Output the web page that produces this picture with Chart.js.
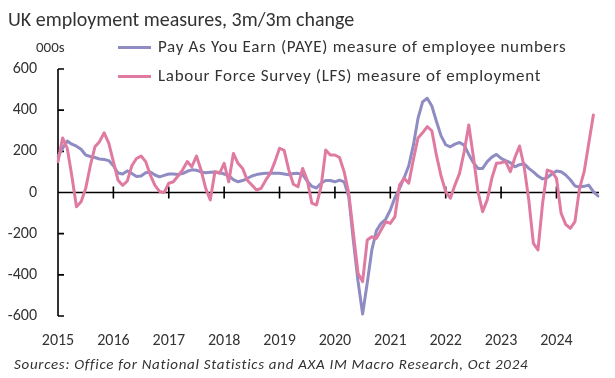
<!DOCTYPE html>
<html><head><meta charset="utf-8">
<script src="https://cdn.jsdelivr.net/npm/chart.js@4.4.1/dist/chart.umd.min.js"></script>
<style>
html,body{margin:0;padding:0;background:#fff;}
#wrap{position:relative;width:615px;height:378px;overflow:hidden;font-family:Carlito,Lato,sans-serif;color:#333;}
canvas{position:absolute;left:0;top:0;}
.t{position:absolute;white-space:nowrap;line-height:1;}
.lg{font-size:17px;letter-spacing:0.7px;}
.sw{position:absolute;width:33px;height:3px;}
</style></head><body>
<div id="wrap">
<canvas id="c" width="615" height="378"></canvas>
<div class="t" style="left:8px;top:9px;font-size:20px;">UK employment measures, 3m/3m change</div>
<div class="t" style="left:36px;top:40px;font-size:15px;">000s</div>
<div class="sw" style="left:118px;top:46px;background:#8e8cc2;"></div>
<div class="t lg" style="left:158px;top:38px;">Pay As You Earn (PAYE) measure of employee numbers</div>
<div class="sw" style="left:118px;top:75px;background:#e07aa1;"></div>
<div class="t lg" style="left:158px;top:67px;">Labour Force Survey (LFS) measure of employment</div>
<div class="t" style="left:14px;top:357px;font-size:15px;font-style:italic;letter-spacing:0.7px;">Sources: Office for National Statistics and AXA IM Macro Research, Oct 2024</div>
</div>
<script>
const startYear = 2015;
const yearLabels = ['2015','2016','2017','2018','2019','2020','2021','2022','2023','2024'];
const yTicks = [-600,-400,-200,0,200,400,600];
// PAYE, 3m/3m change, 000s, monthly from Jan 2015
const payeValues = [
 175,215,250,235,225,210,182,175,170,163,160,155,
 130,95,90,105,92,78,80,96,100,85,76,83,
 90,90,88,92,103,110,108,100,96,98,100,97,
 90,82,62,52,58,68,80,87,91,93,93,93,
 93,90,86,92,93,88,55,30,22,45,58,58,
 52,60,52,-20,-235,-430,-590,-440,-279,-185,-150,-130,
 -85,-25,20,72,130,230,360,440,458,420,345,275,
 232,222,235,243,230,185,145,117,117,150,172,185,
 166,155,145,125,135,140,117,100,80,66,72,90,
 104,101,85,62,32,27,30,36,4,-17
];
// LFS, 3m/3m change, 000s, monthly from Jan 2015
const lfsValues = [
 150,265,215,80,-69,-45,20,130,222,247,290,240,
 150,60,35,55,130,165,177,150,85,35,5,0,
 45,52,80,110,150,125,177,109,20,-36,101,93,
 142,52,190,142,117,60,36,12,20,60,93,150,
 215,205,110,40,28,117,61,-52,-61,28,206,182,
 182,170,100,-4,-198,-392,-433,-231,-215,-223,-182,-142,
 -150,-117,36,69,45,160,265,290,320,300,180,80,
 4,-28,36,93,198,328,174,4,-93,-36,69,142,
 145,150,101,170,226,125,-36,-247,-279,-52,109,101,
 69,-100,-155,-174,-142,20,101,239,377
];
const months = payeValues.map((_, i) => (startYear + Math.floor(i / 12)) + '-' + String(i % 12 + 1).padStart(2, '0'));

const axesPlugin = {
  id: 'axesDeco',
  beforeDatasetsDraw(chart) {
    const {ctx, chartArea: a, scales: {x, y}} = chart;
    ctx.save();
    ctx.strokeStyle = '#000';
    ctx.lineWidth = 1.6;
    ctx.beginPath();
    ctx.moveTo(a.left, a.top); ctx.lineTo(a.left, a.bottom);
    yTicks.forEach(v => { const py = y.getPixelForValue(v); ctx.moveTo(a.left, py); ctx.lineTo(a.left + 6, py); });
    const y0 = y.getPixelForValue(0);
    ctx.moveTo(a.left, y0); ctx.lineTo(a.right + 1, y0);
    yearLabels.forEach((_, k) => { const px = x.getPixelForValue(k * 12); ctx.moveTo(px, y0 - 6); ctx.lineTo(px, y0 + 6); });
    ctx.stroke();
    ctx.restore();
  }
};

new Chart(document.getElementById('c'), {
  type: 'line',
  data: {
    labels: months,
    datasets: [
      {label: 'Pay As You Earn (PAYE) measure of employee numbers', data: payeValues, borderColor: '#8e8cc2', borderWidth: 3, pointRadius: 0, tension: 0, order: 1, borderJoinStyle: 'round', borderCapStyle: 'round'},
      {label: 'Labour Force Survey (LFS) measure of employment', data: lfsValues, borderColor: '#e07aa1', borderWidth: 3, pointRadius: 0, tension: 0, order: 0, borderJoinStyle: 'round', borderCapStyle: 'round'}
    ]
  },
  options: {
    responsive: false,
    animation: false,
    events: [],
    layout: {padding: {left: 0, right: 17, top: 69, bottom: 32}},
    plugins: {legend: {display: false}, tooltip: {enabled: false}, title: {display: false}},
    scales: {
      x: {
        type: 'category', offset: false,
        grid: {display: false, drawTicks: false}, border: {display: false},
        ticks: {autoSkip: false, maxRotation: 0, minRotation: 0, padding: 15, color: '#333', font: {family: 'Carlito, Lato, sans-serif', size: 16},
          callback: (v, i) => (i % 12 === 0 ? yearLabels[i / 12] : null)},
        afterFit: s => { s.height = 30; }
      },
      y: {
        min: -600, max: 600,
        grid: {display: false, drawTicks: false}, border: {display: false},
        ticks: {stepSize: 200, padding: 21, color: '#333', font: {family: 'Carlito, Lato, sans-serif', size: 16}},
        afterFit: s => { s.width = 58; }
      }
    }
  },
  plugins: [axesPlugin]
});
</script>
</body></html>
